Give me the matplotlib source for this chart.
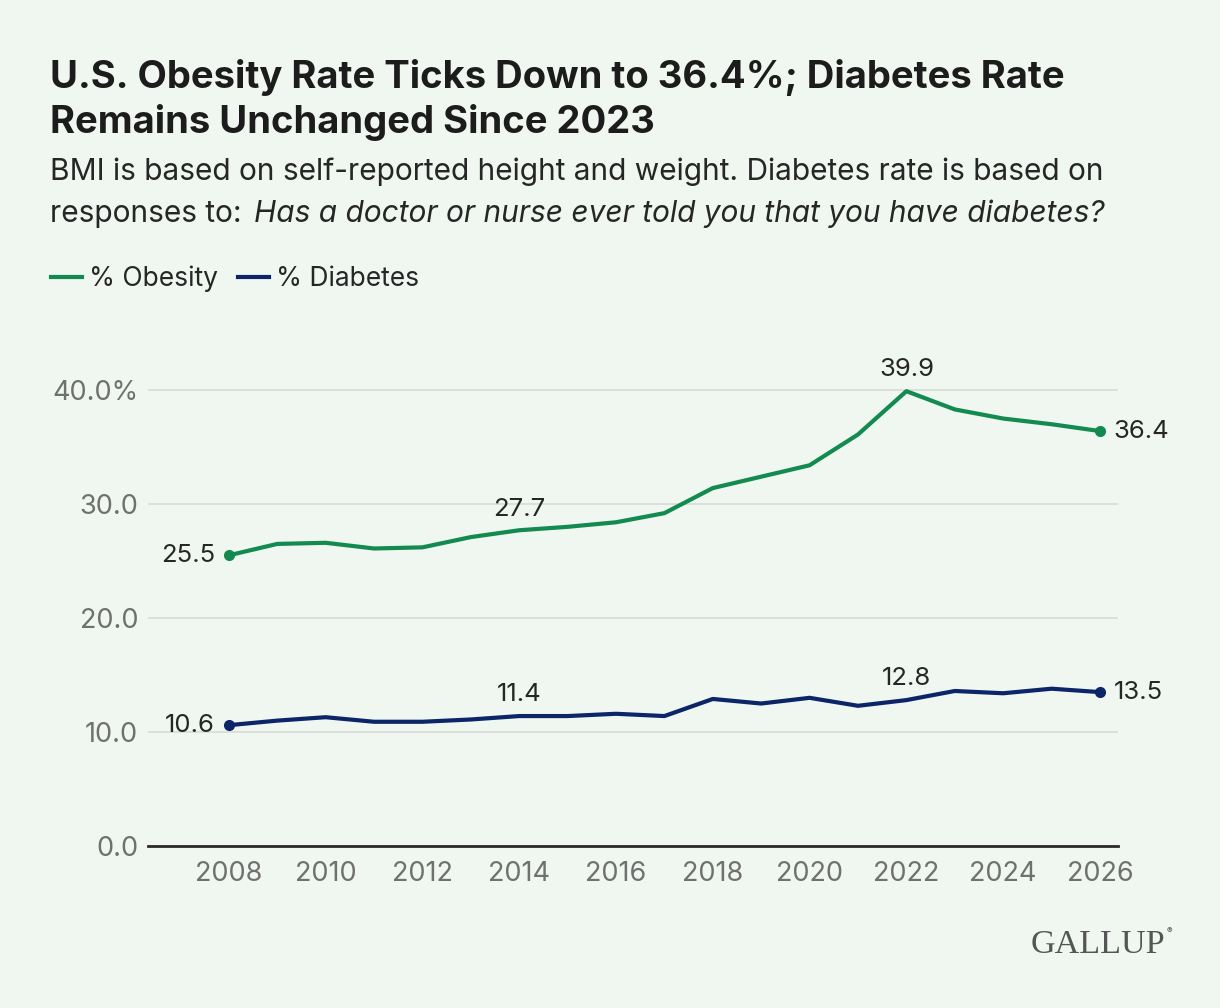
import matplotlib.pyplot as plt
from matplotlib.ticker import FuncFormatter

# data
years = list(range(2008, 2027))
obesity = [25.5, 26.5, 26.6, 26.1, 26.2, 27.1, 27.7, 28.0, 28.4, 29.2,
           31.4, 32.4, 33.4, 36.1, 39.9, 38.3, 37.5, 37.0, 36.4]
diabetes = [10.6, 11.0, 11.3, 10.9, 10.9, 11.1, 11.4, 11.4, 11.6, 11.4,
            12.9, 12.5, 13.0, 12.3, 12.8, 13.6, 13.4, 13.8, 13.5]
xticks = list(range(2008, 2027, 2))
yticks = [0, 10, 20, 30, 40]

bg = '#eff7f0'
green = '#138a50'
navy = '#0c2568'
dark = '#262626'
grey = '#707070'

plt.rcParams['font.family'] = ['Inter', 'DejaVu Sans']

fig = plt.figure(figsize=(12.2, 10.08), dpi=100, facecolor=bg)
ax = fig.add_axes([0.1213, 0.1607, 0.795, 0.5089], facecolor=bg)

ax.plot(years, obesity, color=green, lw=3, solid_joinstyle='round', label='% Obesity', zorder=3)
ax.plot(years, diabetes, color=navy, lw=3, solid_joinstyle='round', label='% Diabetes', zorder=3)

# end points
for ser, c in [(obesity, green), (diabetes, navy)]:
    ax.plot([years[0], years[-1]], [ser[0], ser[-1]], 'o', color=c, ms=7, zorder=4)

# value labels
def lab(i, ser, where):
    x, y = years[i], ser[i]
    kw = dict(textcoords='offset points', fontsize=18.5, color=dark)
    if where == 'left':
        ax.annotate(f'{y:.1f}', (x, y), xytext=(-10, 0), ha='right', va='center', **kw)
    elif where == 'right':
        ax.annotate(f'{y:.1f}', (x, y), xytext=(10, 0), ha='left', va='center', **kw)
    else:
        ax.annotate(f'{y:.1f}', (x, y), xytext=(0, 7), ha='center', va='bottom', **kw)

for ser in (obesity, diabetes):
    lab(0, ser, 'left')
    lab(6, ser, 'top')
    lab(14, ser, 'top')
    lab(18, ser, 'right')

ax.set_xlim(2006.33, 2026.37)
ax.set_ylim(0, 45)
ax.set_xticks(xticks)
ax.set_yticks(yticks)
ax.yaxis.set_major_formatter(FuncFormatter(lambda v, p: '40.0%' if v == 40 else f'{v:.1f}'))
ax.grid(axis='y', color='#d7dcd7', lw=1.2)
ax.set_axisbelow(True)
for s in ['top', 'right', 'left']:
    ax.spines[s].set_visible(False)
ax.spines['bottom'].set_color('#2a2a2a')
ax.spines['bottom'].set_linewidth(2)
ax.tick_params(axis='both', length=0, labelsize=19.5, labelcolor=grey)
ax.tick_params(axis='x', pad=11)
ax.tick_params(axis='y', pad=7)

fig.text(0.041, 0.913, 'U.S. Obesity Rate Ticks Down to 36.4%; Diabetes Rate',
         fontsize=27.5, fontweight='bold', color='#1c1c1c', va='baseline')
fig.text(0.041, 0.868, 'Remains Unchanged Since 2023',
         fontsize=27.5, fontweight='bold', color='#1c1c1c', va='baseline')
fig.text(0.041, 0.821, 'BMI is based on self-reported height and weight. Diabetes rate is based on',
         fontsize=21.5, color=dark, va='baseline')
t = fig.text(0.041, 0.780, 'responses to: ', fontsize=21.5, color=dark, va='baseline')
fig.text(0, 0, 'Has a doctor or nurse ever told you that you have diabetes?',
         fontsize=21.5, color=dark, va='baseline', style='italic',
         transform=t.get_transform())
fig.canvas.draw()
bb = t.get_window_extent()
fig.texts[-1].set_position(((bb.x1 + 4) / fig.bbox.width, 0.780))

fig.legend(loc='center left', bbox_to_anchor=(0.022, 0.723), ncol=2, frameon=False,
           fontsize=19, handlelength=1.2, handletextpad=0.25, columnspacing=0.75,
           labelcolor=dark)

fig.text(0.955, 0.0546, 'GALLUP', family=['Liberation Serif', 'DejaVu Serif'],
         fontsize=24.5, color='#555555', ha='right', va='baseline')
fig.text(0.956, 0.0745, '®', fontsize=6, color='#555555', ha='left', va='baseline')

fig.savefig('out.png', dpi=100, facecolor=bg)
